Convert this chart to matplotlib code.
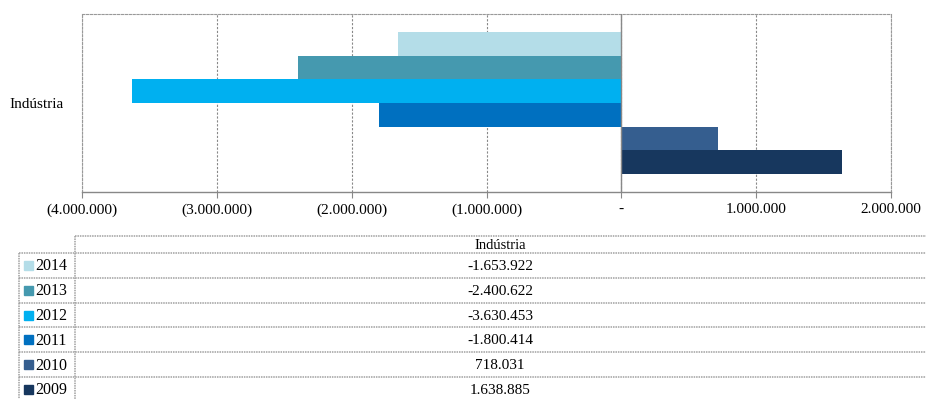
import matplotlib.pyplot as plt
from matplotlib.ticker import FuncFormatter

plt.rcParams['font.family'] = ['Liberation Serif', 'DejaVu Serif']

category = "Indústria"
years = ["2014", "2013", "2012", "2011", "2010", "2009"]
values = [-1653922, -2400622, -3630453, -1800414, 718031, 1638885]
colors = ["#B4DDE8", "#4599AF", "#00B0F0", "#0070C0", "#355E8F", "#17375E"]
xticks = [-4000000, -3000000, -2000000, -1000000, 0, 1000000, 2000000]


def fmt_br(v):
    s = f"{abs(int(v)):,}".replace(",", ".")
    return s


def tick_fmt(v, pos):
    if v == 0:
        return "-"
    if v < 0:
        return "(" + fmt_br(v) + ")"
    return fmt_br(v)


W, H = 926, 399
fig = plt.figure(figsize=(W / 100, H / 100), dpi=100)

# chart
ax = fig.add_axes([82 / W, 1 - 192 / H, (891 - 82) / W, (192 - 14) / H])
n = len(years)
bar_h = 0.8 / n
for i, (yr, v, c) in enumerate(zip(years, values, colors)):
    y = 0.4 - bar_h / 2 - i * bar_h
    ax.barh(y, v, height=bar_h, color=c, zorder=3)
ax.set_xlim(-4000000, 2000000)
ax.set_ylim(-0.5, 0.5)
ax.set_xticks(xticks)
ax.xaxis.set_major_formatter(FuncFormatter(tick_fmt))
ax.set_yticks([0])
ax.set_yticklabels([category])
ax.tick_params(axis='y', length=0, labelsize=11, pad=13)
ax.tick_params(axis='x', length=4, color='#888888', labelsize=11, pad=4)
ax.grid(axis='x', color='#888888', linestyle=(0, (2, 1.5)), linewidth=0.8, zorder=0)
ax.axvline(0, color='#888888', linewidth=1, zorder=4)
for side in ['top', 'right', 'left']:
    ax.spines[side].set_color('#999999')
    ax.spines[side].set_linestyle((0, (2, 1.5)))
    ax.spines[side].set_linewidth(0.8)
ax.spines['bottom'].set_color('#888888')
ax.spines['bottom'].set_linewidth(1)

# data table below the chart
tb = fig.add_axes([0, 0, 1, 1])
tb.set_xlim(0, W)
tb.set_ylim(H, 0)
tb.axis('off')
line_kw = dict(color='#A0A0A0', linewidth=1.1, linestyle=(0, (1, 0.6)))
head_top, head_bot = 236, 253
row_h = 24.8
x_left, x_mid, x_right = 19, 75, W
text_x = 500
tb.plot([x_mid, x_right], [head_top, head_top], **line_kw)
tb.plot([x_mid, x_mid], [head_top, H + 5], **line_kw)
tb.text(text_x, (head_top + head_bot) / 2 + 1, category,
        ha='center', va='center', fontsize=10.5)
for i, (yr, v, c) in enumerate(zip(years, values, colors)):
    top = head_bot + i * row_h
    tb.plot([x_left, x_right], [top, top], **line_kw)
    tb.plot([x_left, x_left], [top, top + row_h], **line_kw)
    cy = top + row_h / 2
    tb.add_patch(plt.Rectangle((24, cy - 4.5), 9, 9, color=c))
    tb.text(35, cy + 1, yr, ha='left', va='center', fontsize=11.5)
    sign = "-" if v < 0 else ""
    tb.text(text_x, cy + 1, sign + fmt_br(v),
            ha='center', va='center', fontsize=11)

fig.savefig("out.png", dpi=100)
